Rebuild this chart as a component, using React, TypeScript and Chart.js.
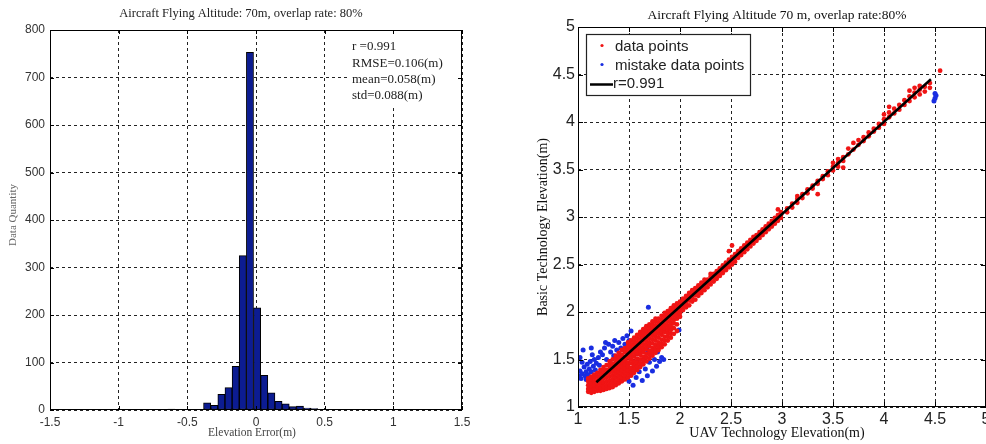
import React, { useEffect, useRef } from "react";
import { Chart, registerables } from "chart.js";

Chart.register(...registerables);

const SERIF = '"Liberation Serif", "Times New Roman", serif';
const SANS = '"Liberation Sans", Arial, Helvetica, sans-serif';

// ---------------- Left panel: histogram ----------------
const histTitle = "Aircraft Flying Altitude: 70m, overlap rate: 80%";
const histXLabel = "Elevation Error(m)";
const histYLabel = "Data Quantity";
const binCenters = [
  -0.616, -0.564, -0.512, -0.46, -0.408, -0.356, -0.304, -0.252, -0.2, -0.148, -0.096,
  -0.044, 0.008, 0.06, 0.112, 0.164, 0.216, 0.268, 0.32, 0.372, 0.424,
];
const binCounts = [2, 0, 0, 0, 0, 15, 10, 33, 47, 92, 325, 753, 215, 73, 36, 18, 13, 7, 8, 4, 3];
const histStats = ["r =0.991", "RMSE=0.106(m)", "mean=0.058(m)", "std=0.088(m)"];

// ---------------- Right panel: scatter ----------------
const scatterTitle = "Aircraft Flying Altitude 70 m, overlap rate:80%";
const scatterXLabel = "UAV Technology Elevation(m)";
const scatterYLabel = "Basic Technology Elevation(m)";
const legendLabels = ["data points", "mistake data points", "r=0.991"];

// red "data points": columns of [UAV elevation, basic elevations...]
const dataColumns: [number, number[]][] = [
  [1.10, [1.16, 1.19, 1.23, 1.27, 1.30]],
  [1.13, [1.15, 1.18, 1.22, 1.25, 1.29, 1.32]],
  [1.16, [1.16, 1.20, 1.23, 1.27, 1.31, 1.34]],
  [1.19, [1.17, 1.21, 1.25, 1.28, 1.32, 1.36]],
  [1.22, [1.17, 1.20, 1.24, 1.28, 1.32, 1.35, 1.39]],
  [1.25, [1.18, 1.22, 1.26, 1.30, 1.34, 1.38, 1.42]],
  [1.28, [1.19, 1.23, 1.27, 1.31, 1.35, 1.39, 1.44]],
  [1.31, [1.20, 1.24, 1.28, 1.32, 1.36, 1.40, 1.44, 1.48]],
  [1.34, [1.21, 1.25, 1.29, 1.33, 1.37, 1.41, 1.45, 1.50]],
  [1.37, [1.23, 1.27, 1.31, 1.35, 1.39, 1.43, 1.47, 1.51, 1.54]],
  [1.40, [1.25, 1.29, 1.33, 1.37, 1.41, 1.45, 1.49, 1.53, 1.57]],
  [1.43, [1.27, 1.31, 1.35, 1.39, 1.43, 1.47, 1.51, 1.55, 1.60]],
  [1.46, [1.29, 1.33, 1.37, 1.41, 1.45, 1.49, 1.53, 1.58, 1.62]],
  [1.49, [1.31, 1.35, 1.39, 1.43, 1.47, 1.52, 1.56, 1.60, 1.64, 1.68]],
  [1.52, [1.33, 1.37, 1.41, 1.46, 1.50, 1.54, 1.58, 1.62, 1.66, 1.70]],
  [1.55, [1.36, 1.40, 1.44, 1.48, 1.53, 1.57, 1.61, 1.65, 1.69, 1.73]],
  [1.58, [1.39, 1.43, 1.47, 1.51, 1.56, 1.60, 1.64, 1.68, 1.72, 1.76]],
  [1.61, [1.42, 1.46, 1.50, 1.55, 1.59, 1.63, 1.67, 1.71, 1.75, 1.79]],
  [1.64, [1.45, 1.49, 1.53, 1.58, 1.62, 1.66, 1.70, 1.74, 1.78, 1.82]],
  [1.67, [1.48, 1.52, 1.56, 1.61, 1.65, 1.69, 1.73, 1.77, 1.81, 1.85]],
  [1.70, [1.51, 1.55, 1.59, 1.64, 1.68, 1.72, 1.76, 1.80, 1.84, 1.87]],
  [1.73, [1.54, 1.58, 1.62, 1.67, 1.71, 1.75, 1.79, 1.83, 1.87, 1.90]],
  [1.76, [1.57, 1.61, 1.65, 1.70, 1.74, 1.78, 1.82, 1.86, 1.90, 1.93]],
  [1.79, [1.60, 1.64, 1.68, 1.73, 1.77, 1.81, 1.85, 1.89, 1.93]],
  [1.82, [1.63, 1.67, 1.71, 1.76, 1.80, 1.84, 1.88, 1.92, 1.96]],
  [1.85, [1.66, 1.70, 1.74, 1.79, 1.83, 1.87, 1.91, 1.95, 1.99]],
  [1.88, [1.70, 1.74, 1.78, 1.82, 1.86, 1.90, 1.94, 1.98, 2.01]],
  [1.91, [1.73, 1.77, 1.81, 1.85, 1.89, 1.93, 1.97, 2.01, 2.04]],
  [1.94, [1.77, 1.83, 1.88, 1.92, 1.96, 2.00, 2.04, 2.07]],
  [1.97, [1.80, 1.87, 1.93, 1.97, 2.01, 2.05, 2.09]],
  [2.00, [1.95, 1.99, 2.03, 2.07, 2.11]],
  [2.03, [2.02, 2.06, 2.10, 2.14]],
  [2.06, [2.05, 2.09, 2.13, 2.17]],
  [2.09, [2.07, 2.12, 2.16, 2.20]],
  [2.12, [2.11, 2.15, 2.19, 2.23]],
  [2.15, [2.13, 2.18, 2.22, 2.25]],
  [2.18, [2.17, 2.21, 2.25, 2.28]],
  [2.21, [2.20, 2.24, 2.28, 2.31]],
  [2.24, [2.23, 2.27, 2.31, 2.34]],
  [2.27, [2.26, 2.30, 2.34]],
  [2.30, [2.29, 2.33, 2.37, 2.40]],
  [2.33, [2.32, 2.36, 2.40]],
  [2.36, [2.35, 2.39, 2.43]],
  [2.39, [2.38, 2.42, 2.46]],
  [2.42, [2.41, 2.45, 2.49]],
  [2.45, [2.44, 2.48, 2.52]],
  [2.48, [2.47, 2.51, 2.55, 2.64]],
  [2.51, [2.50, 2.54, 2.58, 2.70]],
  [2.54, [2.53, 2.57, 2.61]],
  [2.57, [2.57, 2.60, 2.64]],
  [2.60, [2.60, 2.63, 2.67]],
  [2.63, [2.63, 2.66, 2.70]],
  [2.66, [2.66, 2.69, 2.73]],
  [2.69, [2.69, 2.72, 2.76]],
  [2.72, [2.72, 2.75, 2.79]],
  [2.75, [2.75, 2.78, 2.81]],
  [2.78, [2.78, 2.81, 2.84]],
  [2.81, [2.81, 2.84, 2.87]],
  [2.84, [2.84, 2.87, 2.90]],
  [2.87, [2.87, 2.90, 2.93]],
  [2.90, [2.90, 2.93, 2.96]],
  [2.93, [2.93, 2.96, 2.99]],
  [2.96, [2.96, 2.99, 3.02, 3.08]],
  [2.99, [2.99, 3.02, 3.05]],
  [3.05, [3.05, 3.09]],
  [3.10, [3.10, 3.14]],
  [3.15, [3.15, 3.19, 3.22]],
  [3.20, [3.20, 3.24]],
  [3.25, [3.25, 3.29]],
  [3.30, [3.30, 3.33]],
  [3.35, [3.24, 3.35, 3.38]],
  [3.40, [3.40, 3.43]],
  [3.45, [3.44, 3.48]],
  [3.50, [3.49, 3.53, 3.57]],
  [3.55, [3.53, 3.57, 3.61]],
  [3.60, [3.52, 3.59, 3.63]],
  [3.65, [3.66, 3.72]],
  [3.70, [3.71, 3.78]],
  [3.75, [3.76, 3.81]],
  [3.80, [3.80, 3.84]],
  [3.85, [3.85, 3.89]],
  [3.90, [3.90, 3.93]],
  [3.95, [3.94, 3.98]],
  [4.00, [3.98, 4.03, 4.08]],
  [4.05, [4.05, 4.10, 4.16]],
  [4.10, [4.09, 4.14]],
  [4.15, [4.13, 4.18]],
  [4.20, [4.18, 4.23]],
  [4.25, [4.22, 4.27, 4.33]],
  [4.30, [4.26, 4.31, 4.36]],
  [4.35, [4.29, 4.34, 4.38]],
  [4.40, [4.32, 4.37]],
  [4.45, [4.36, 4.41]],
  [4.55, [4.54]],
];

// blue "mistake data points"
const mistakePoints: [number, number][] = [
  [1.01, 1.33], [1.02, 1.38], [1.03, 1.30], [1.04, 1.35], [1.02, 1.52], [1.05, 1.60],
  [1.06, 1.42], [1.07, 1.33], [1.08, 1.37], [1.09, 1.45], [1.10, 1.34], [1.11, 1.40],
  [1.12, 1.48], [1.13, 1.37], [1.14, 1.55], [1.15, 1.43], [1.16, 1.50], [1.17, 1.39],
  [1.18, 1.46], [1.20, 1.52], [1.21, 1.44], [1.22, 1.58], [1.04, 1.47], [1.08, 1.29],
  [1.13, 1.62], [1.24, 1.55], [1.26, 1.62], [1.28, 1.50], [1.30, 1.66], [1.32, 1.58],
  [1.34, 1.64], [1.36, 1.70], [1.38, 1.60], [1.40, 1.68], [1.42, 1.62], [1.44, 1.72],
  [1.46, 1.66], [1.48, 1.75], [1.50, 1.70], [1.27, 1.68], [1.35, 1.54], [1.45, 1.30],
  [1.48, 1.38], [1.50, 1.27], [1.52, 1.34], [1.54, 1.23], [1.55, 1.42], [1.57, 1.31],
  [1.58, 1.48], [1.60, 1.37], [1.62, 1.45], [1.63, 1.28], [1.65, 1.52], [1.66, 1.40],
  [1.68, 1.33], [1.70, 1.47], [1.72, 1.55], [1.73, 1.38], [1.75, 1.50], [1.77, 1.43],
  [1.78, 1.58], [1.80, 1.48], [1.82, 1.52], [1.84, 1.50], [1.58, 1.56], [1.68, 1.60],
  [1.69, 2.05], [1.99, 1.81], [1.52, 1.80],
  [4.49, 4.22], [4.50, 4.25], [4.51, 4.28], [4.50, 4.30],
];

// fitted line r=0.991
const fitLine: [number, number][] = [[1.18, 1.26], [4.46, 4.45]];

const RED = "rgb(240,20,20)";
const BLUE = "rgb(25,45,225)";

const fmtTick = (v: any) => String(Math.round(Number(v) * 100) / 100);

function drawFrameAndTicks(chart: any, len: number) {
  const { ctx, chartArea: a, scales } = chart;
  ctx.save();
  ctx.strokeStyle = "#000";
  ctx.lineWidth = 1;
  ctx.beginPath();
  scales.x.ticks.forEach((t: any) => {
    const px = Math.round(scales.x.getPixelForValue(t.value)) + 0.5;
    ctx.moveTo(px, a.bottom);
    ctx.lineTo(px, a.bottom - len);
    ctx.moveTo(px, a.top);
    ctx.lineTo(px, a.top + len);
  });
  scales.y.ticks.forEach((t: any) => {
    const py = Math.round(scales.y.getPixelForValue(t.value)) + 0.5;
    ctx.moveTo(a.left, py);
    ctx.lineTo(a.left + len, py);
    ctx.moveTo(a.right, py);
    ctx.lineTo(a.right - len, py);
  });
  ctx.stroke();
  ctx.strokeRect(a.left + 0.5, a.top + 0.5, a.right - a.left - 1, a.bottom - a.top - 1);
  ctx.restore();
}

const histDecor = {
  id: "histDecor",
  afterDraw(chart: any) {
    const { ctx, chartArea: a } = chart;
    ctx.save();
    // stats box (white background hides grid)
    ctx.fillStyle = "#fff";
    ctx.fillRect(349, a.top + 1, a.right - 350, 76);
    ctx.fillStyle = "#222";
    ctx.font = `13px ${SERIF}`;
    ctx.textAlign = "left";
    ctx.textBaseline = "middle";
    histStats.forEach((t, i) => ctx.fillText(t, 352, 47 + i * 16.3));
    ctx.restore();

    drawFrameAndTicks(chart, 4);

    ctx.save();
    ctx.fillStyle = "#222";
    ctx.textAlign = "center";
    ctx.textBaseline = "middle";
    ctx.font = `12.5px ${SERIF}`;
    ctx.fillText(histTitle, 241, 14);
    ctx.fillStyle = "#444";
    ctx.font = `11.5px ${SERIF}`;
    ctx.fillText(histXLabel, 252, 433);
    ctx.translate(13, 215);
    ctx.rotate(-Math.PI / 2);
    ctx.fillStyle = "#666";
    ctx.font = `11px ${SERIF}`;
    ctx.fillText(histYLabel, 0, 0);
    ctx.restore();
  },
};

const scatterDecor = {
  id: "scatterDecor",
  afterDraw(chart: any) {
    const { ctx } = chart;
    drawFrameAndTicks(chart, 5);
    ctx.save();
    // legend
    ctx.fillStyle = "#fff";
    ctx.fillRect(96, 34, 165, 61);
    ctx.strokeStyle = "#222";
    ctx.lineWidth = 1.2;
    ctx.strokeRect(96.5, 34.5, 164, 61);
    ctx.fillStyle = RED;
    ctx.beginPath();
    ctx.arc(112, 45.5, 1.6, 0, Math.PI * 2);
    ctx.fill();
    ctx.fillStyle = BLUE;
    ctx.beginPath();
    ctx.arc(112, 64.5, 1.6, 0, Math.PI * 2);
    ctx.fill();
    ctx.strokeStyle = "#000";
    ctx.lineWidth = 2.5;
    ctx.beginPath();
    ctx.moveTo(100, 84.5);
    ctx.lineTo(123, 84.5);
    ctx.stroke();
    ctx.fillStyle = "#222";
    ctx.font = `15px ${SANS}`;
    ctx.textAlign = "left";
    ctx.textBaseline = "middle";
    ctx.fillText(legendLabels[0], 125, 47);
    ctx.fillText(legendLabels[1], 125, 66);
    ctx.fillText(legendLabels[2], 123, 84);

    // titles
    ctx.textAlign = "center";
    ctx.fillStyle = "#111";
    ctx.font = `13.5px ${SERIF}`;
    ctx.fillText(scatterTitle, 287, 15);
    ctx.font = `14px ${SERIF}`;
    ctx.fillText(scatterXLabel, 287, 433);
    ctx.translate(53, 227);
    ctx.rotate(-Math.PI / 2);
    ctx.fillText(scatterYLabel, 0, 0);
    ctx.restore();
  },
};

function gridOpts() {
  return { color: "#222", lineWidth: 1, drawTicks: false, offset: false };
}

function HistChart() {
  const ref = useRef<HTMLCanvasElement>(null);
  useEffect(() => {
    const chart = new Chart(ref.current as HTMLCanvasElement, {
      type: "bar",
      data: {
        datasets: [
          {
            data: binCenters.map((x, i) => ({ x, y: binCounts[i] })),
            backgroundColor: "#0c1c92",
            borderColor: "#000",
            borderWidth: 1,
            borderSkipped: false,
            barPercentage: 1,
            categoryPercentage: 1,
          } as any,
        ],
      },
      options: {
        responsive: false,
        animation: false,
        layout: { padding: { top: 30, right: 28, left: 0, bottom: 0 } },
        plugins: { legend: { display: false }, title: { display: false }, tooltip: { enabled: false } },
        scales: {
          x: {
            type: "linear",
            min: -1.5,
            max: 1.5,
            offset: false,
            grid: gridOpts(),
            border: { display: false, dash: [3, 3] },
            ticks: { stepSize: 0.5, padding: 5, color: "#333", font: { family: SANS, size: 12 }, maxRotation: 0, callback: fmtTick },
            afterFit(s: any) {
              s.height = 34;
              s.paddingLeft = 0;
              s.paddingRight = 0;
            },
          },
          y: {
            min: 0,
            max: 800,
            grid: gridOpts(),
            border: { display: false, dash: [3, 3] },
            ticks: { stepSize: 100, padding: 5, color: "#333", font: { family: SANS, size: 12 }, callback: fmtTick },
            afterFit(s: any) {
              s.width = 50;
              s.paddingTop = 0;
              s.paddingBottom = 0;
            },
          },
        } as any,
      },
      plugins: [histDecor],
    });
    return () => chart.destroy();
  }, []);
  return (
    <canvas
      ref={ref}
      width={490}
      height={444}
      style={{ position: "absolute", left: 0, top: 0, width: 490, height: 444 }}
    />
  );
}

function ScatterChart() {
  const ref = useRef<HTMLCanvasElement>(null);
  useEffect(() => {
    const redPts: { x: number; y: number }[] = [];
    dataColumns.forEach(([x, ys]) => ys.forEach((y) => redPts.push({ x, y })));
    const chart = new Chart(ref.current as HTMLCanvasElement, {
      type: "scatter",
      data: {
        datasets: [
          {
            data: fitLine.map(([x, y]) => ({ x, y })),
            showLine: true,
            borderColor: "#000",
            borderWidth: 2.5,
            pointRadius: 0,
            order: 0,
          } as any,
          {
            data: redPts,
            backgroundColor: RED,
            borderWidth: 0,
            pointRadius: 2.4,
            order: 1,
          },
          {
            data: mistakePoints.map(([x, y]) => ({ x, y })),
            backgroundColor: BLUE,
            borderWidth: 0,
            pointRadius: 2.5,
            order: 2,
          },
        ],
      },
      options: {
        responsive: false,
        animation: false,
        layout: { padding: { top: 27, right: 2, left: 0, bottom: 0 } },
        plugins: { legend: { display: false }, title: { display: false }, tooltip: { enabled: false } },
        scales: {
          x: {
            type: "linear",
            min: 1,
            max: 5,
            grid: gridOpts(),
            border: { display: false, dash: [3, 3] },
            ticks: { stepSize: 0.5, padding: 3, color: "#222", font: { family: SANS, size: 16 }, maxRotation: 0, callback: fmtTick },
            afterFit(s: any) {
              s.height = 37;
              s.paddingLeft = 0;
              s.paddingRight = 0;
            },
          },
          y: {
            min: 1,
            max: 5,
            grid: gridOpts(),
            border: { display: false, dash: [3, 3] },
            ticks: { stepSize: 0.5, padding: 3, color: "#222", font: { family: SANS, size: 16 }, callback: fmtTick },
            afterFit(s: any) {
              s.width = 88;
              s.paddingTop = 0;
              s.paddingBottom = 0;
            },
          },
        } as any,
      },
      plugins: [scatterDecor],
    });
    return () => chart.destroy();
  }, []);
  return (
    <canvas
      ref={ref}
      width={500}
      height={444}
      style={{ position: "absolute", left: 490, top: 0, width: 500, height: 444 }}
    />
  );
}

export default function App() {
  return (
    <div
      style={{
        position: "absolute",
        left: 0,
        top: 0,
        width: 986,
        height: 444,
        overflow: "hidden",
        background: "#fff",
      }}
    >
      <HistChart />
      <ScatterChart />
    </div>
  );
}
